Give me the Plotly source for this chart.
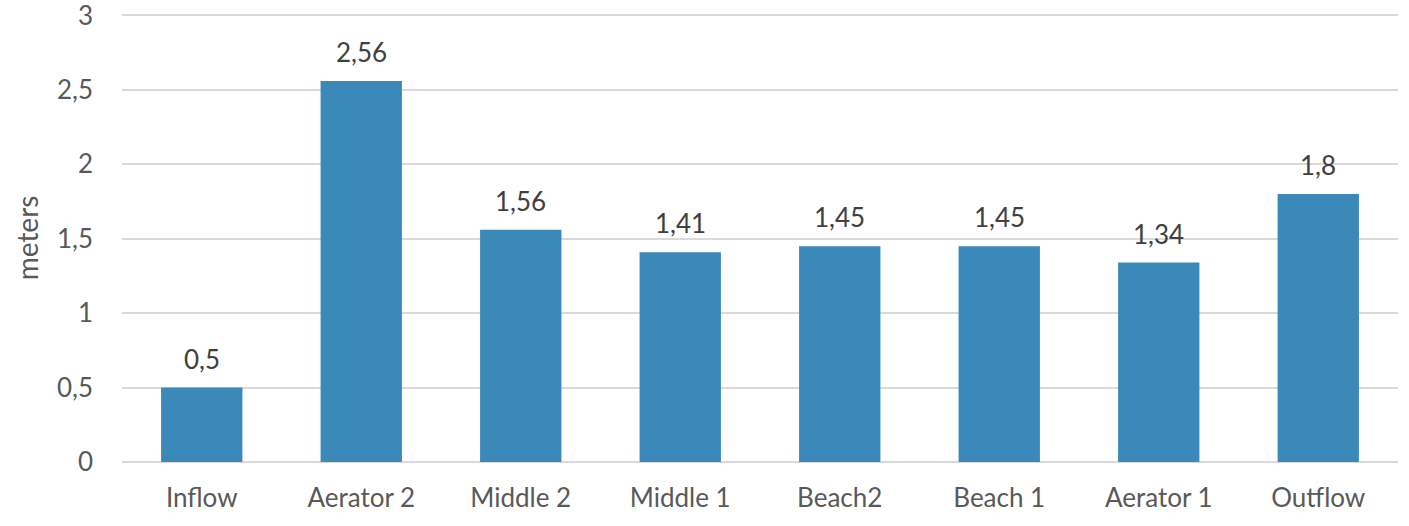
import plotly.graph_objects as go

categories = ["Inflow", "Aerator 2", "Middle 2", "Middle 1", "Beach2", "Beach 1", "Aerator 1", "Outflow"]
values = [0.5, 2.56, 1.56, 1.41, 1.45, 1.45, 1.34, 1.8]
y_max = 3
y_step = 0.5

FONT = "Lato, 'Open Sans', sans-serif"

fig = go.Figure()
fig.add_trace(go.Bar(
    x=categories, y=values,
    marker=dict(color="#3a89b8", line=dict(width=0)),
    width=0.51,
    hoverinfo="skip",
))

for c, v in zip(categories, values):
    fig.add_annotation(
        x=c, y=v, text=f"{v:g}".replace(".", ","),
        showarrow=False, yanchor="bottom", yshift=11,
        font=dict(family=FONT, size=26, color="#404040"),
    )

fig.update_layout(
    width=1409, height=526,
    margin=dict(l=122, r=11, t=14, b=64, autoexpand=False),
    paper_bgcolor="white", plot_bgcolor="white",
    separators=",.",
    showlegend=False,
    font=dict(family=FONT, size=26, color="#595959"),
)
fig.update_xaxes(
    showgrid=False, showline=False, zeroline=False, automargin=False,
    ticks="", ticklabelstandoff=18,
    tickfont=dict(family=FONT, size=26, color="#595959"),
)
fig.update_yaxes(
    range=[0, y_max + 0.01], tickmode="linear", tick0=0, dtick=y_step, automargin=False,
    ticklabeloverflow="allow",
    showgrid=True, gridcolor="#d9d9d9", gridwidth=1.5,
    zeroline=True, zerolinecolor="#d9d9d9", zerolinewidth=1.5,
    showline=False, ticks="", ticklabelstandoff=28,
    tickfont=dict(family=FONT, size=26, color="#595959"),
    title=dict(text="meters", font=dict(family=FONT, size=28, color="#595959"), standoff=10),
)

fig.write_html("out.html")
